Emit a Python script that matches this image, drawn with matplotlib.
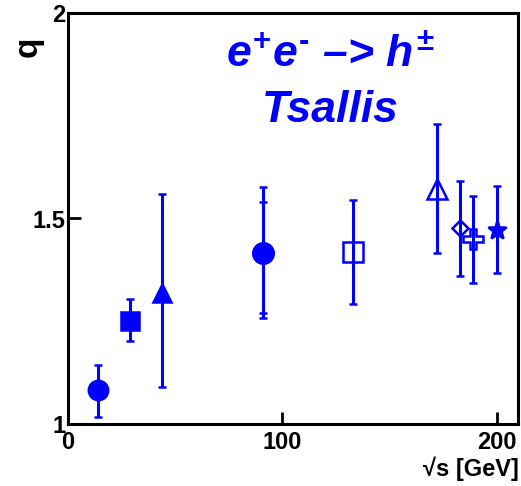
import matplotlib
matplotlib.use("Agg")
import matplotlib.pyplot as plt

plt.rcParams["font.family"] = ["Liberation Sans", "DejaVu Sans"]
plt.rcParams["font.weight"] = "bold"
plt.rcParams["mathtext.fontset"] = "custom"
plt.rcParams["mathtext.it"] = "Liberation Sans:italic:bold"
plt.rcParams["mathtext.rm"] = "Liberation Sans:bold"
plt.rcParams["mathtext.bf"] = "Liberation Sans:bold"

# Tsallis q parameter vs centre-of-mass energy
energy = [14, 29, 44, 91.2, 91.2, 133, 172, 183, 189, 200]
q_val = [1.082, 1.250, 1.318, 1.415, 1.415, 1.418, 1.571, 1.476, 1.449, 1.471]
q_low = [1.018, 1.201, 1.089, 1.257, 1.269, 1.291, 1.416, 1.360, 1.344, 1.368]
q_high = [1.143, 1.303, 1.559, 1.576, 1.540, 1.546, 1.730, 1.591, 1.554, 1.579]

markers = ["o", "s", "^", "o", "o", "s", "^", "D", "P", "*"]
filled = [True, True, True, True, False, False, False, False, False, True]
sizes = [14, 13, 13, 14.5, 14.5, 14, 15, 8.5, 15, 14]

BLUE = "#0000ff"

fig = plt.figure(figsize=(5.21, 4.86), dpi=100)
ax = fig.add_axes([68 / 521, 62 / 486, 450 / 521, 411 / 486])

for x, y, lo, hi, m, f, ms in zip(energy, q_val, q_low, q_high, markers, filled, sizes):
    ax.errorbar([x], [y], yerr=[[y - lo], [hi - y]], fmt=m, ms=ms,
                color=BLUE, mfc=BLUE if f else "none", mec=BLUE, mew=1.8,
                elinewidth=2.2, capsize=2.6, capthick=1.6, zorder=3)

ax.set_xlim(0, 210)
ax.set_ylim(1, 2)
ax.set_xticks([0, 100, 200])
ax.set_yticks([1, 1.5, 2])
ax.set_xticklabels(["0", "100", "200"])
ax.set_yticklabels(["1", "1.5", "2"])
ax.tick_params(direction="in", length=9, width=2, labelsize=17)
ax.tick_params(axis="x", pad=5)
ax.tick_params(axis="y", pad=2)
for lab in ax.get_xticklabels() + ax.get_yticklabels():
    lab.set_fontweight("bold")
for sp in ax.spines.values():
    sp.set_linewidth(2.2)

fig.text(519 / 521, 1 - 469 / 486, "\u221as [GeV]", ha="right", va="center",
         fontsize=17, fontweight="bold")
fig.text(28 / 521, 1 - 47 / 486, "q", ha="center", va="center", rotation=90,
         fontsize=24, fontweight="bold")

fig.text(330 / 521, 1 - 68 / 486, "$e^{+}e^{\\text{-}}$ \u2013> $h^{\\pm}$",
         ha="center", va="baseline", fontsize=32, fontweight="bold",
         style="italic", color=BLUE)
fig.text(330 / 521, 1 - 122 / 486, "Tsallis", ha="center", va="baseline",
         fontsize=32, fontweight="bold", style="italic", color=BLUE)

fig.savefig("out.png", dpi=100)
